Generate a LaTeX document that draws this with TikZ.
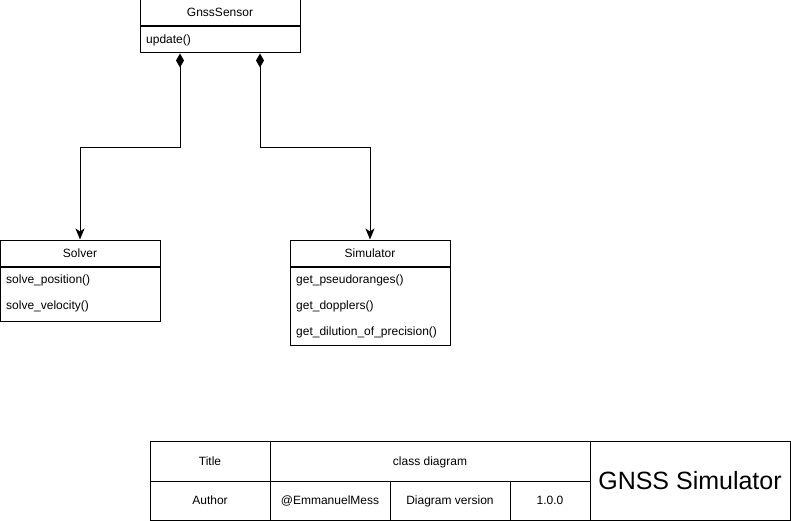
\documentclass[tikz,border=0pt]{standalone}
\usepackage{fontspec}
\setmainfont{Liberation Sans}
\usetikzlibrary{arrows.meta}

\tikzset{
    classhead/.style={draw, line width=1pt, minimum width=160pt, minimum height=26pt, inner sep=0pt, text height=9pt, text depth=1pt, font=\fontsize{12}{14}\selectfont},
    classbody/.style={draw, line width=1pt, minimum width=160pt, anchor=north, inner sep=0pt},
    member/.style={anchor=west, inner sep=0pt, text height=9pt, text depth=1pt, font=\fontsize{12}{14}\selectfont},
    cell/.style={draw, line width=1pt, inner sep=0pt, minimum height=40pt, text height=9pt, text depth=1pt, font=\fontsize{12}{14}\selectfont},
    composition/.style={line width=1pt, {Diamond[length=14pt,width=8pt]}-{Stealth[length=11pt,width=9pt,inset=3pt]}},
}

\begin{document}
\begin{tikzpicture}[x=1pt, y=-1pt]
        \useasboundingbox (0,0) rectangle (791,521);
        % GnssSensor
        \node[classhead] (sensor) at (220,13) {GnssSensor};
        \node[classbody, minimum height=26pt] (sensorbody) at (sensor.south) {};
        \node[member] (update) at (146,39.5) {update()};
        % Solver
        \node[classhead] (solver) at (80,253) {Solver};
        \node[classbody, minimum height=54pt] (solverbody) at (solver.south) {};
        \node[member] (solvepos) at (6,279.5) {solve\_position()};
        \node[member] (solvevel) at (6,305.5) {solve\_velocity()};
        % Simulator
        \node[classhead] (simulator) at (370,253) {Simulator};
        \node[classbody, minimum height=78pt] (simulatorbody) at (simulator.south) {};
        \node[member] (pseudo) at (296,279.5) {get\_pseudoranges()};
        \node[member] (doppler) at (296,305.5) {get\_dopplers()};
        \node[member] (dop) at (296,331.5) {get\_dilution\_of\_precision()};
        % compositions
        \draw[composition] ([xshift=-40pt]sensorbody.south) -- ++(0,94) -| (solver.north);
        \draw[composition] ([xshift=40pt]sensorbody.south) -- ++(0,94) -| (simulator.north);
        % title block
        \node[cell, minimum width=120pt] (title) at (210,461) {Title};
        \node[cell, minimum width=320pt] (titleval) at (430,461) {class diagram};
        \node[cell, minimum width=120pt, minimum height=39pt] (author) at (210,500.5) {Author};
        \node[cell, minimum width=120pt, minimum height=39pt] (authorval) at (330,500.5) {@EmmanuelMess};
        \node[cell, minimum width=120pt, minimum height=39pt] (versionlabel) at (450,500.5) {Diagram version};
        \node[cell, minimum width=80pt, minimum height=39pt] (version) at (550,500.5) {1.0.0};
        \node[cell, minimum width=200pt, minimum height=79pt, text height=18pt, text depth=1pt, font=\fontsize{25}{29}\selectfont] (project) at (690,480.5) {GNSS Simulator};
    \end{tikzpicture}
\end{document}
